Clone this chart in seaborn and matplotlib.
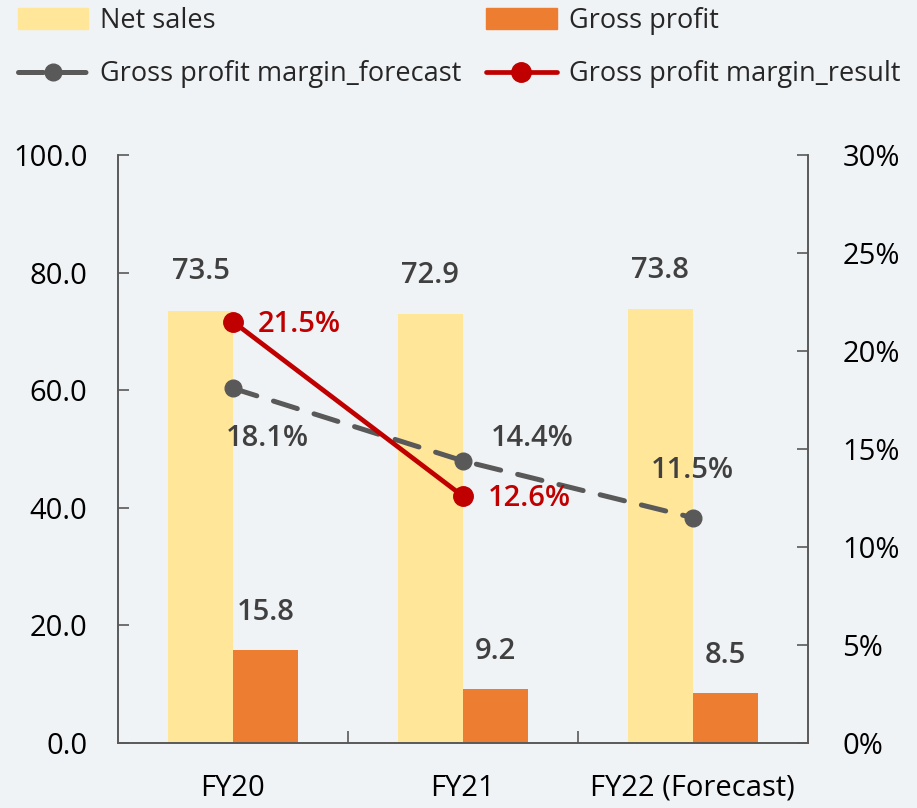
import matplotlib
matplotlib.use("Agg")
import matplotlib.pyplot as plt
import matplotlib.ticker as mticker
from matplotlib.patches import Patch
import seaborn as sns
import pandas as pd

# Data
categories = ["FY20", "FY21", "FY22 (Forecast)"]
net_sales = [73.5, 72.9, 73.8]
gross_profit = [15.8, 9.2, 8.5]
margin_forecast = [0.181, 0.144, 0.115]
margin_result = [0.215, 0.126]

BG = "#F0F3F5"
YELLOW = "#FFE699"
ORANGE = "#ED7D31"
GRAY = "#595959"
RED = "#C00000"
TXT = "#404040"

sns.set_style("white")
plt.rcParams["font.family"] = ["Open Sans", "DejaVu Sans"]

df = pd.DataFrame({
    "cat": categories * 2,
    "value": net_sales + gross_profit,
    "series": ["Net sales"] * 3 + ["Gross profit"] * 3,
})

fig = plt.figure(figsize=(9.17, 8.08), dpi=100, facecolor=BG)
ax = fig.add_axes([0.1287, 0.0804, 0.752, 0.7277])
ax.set_facecolor(BG)

sns.barplot(data=df, x="cat", y="value", hue="series",
            palette={"Net sales": YELLOW, "Gross profit": ORANGE},
            width=0.565, gap=0, saturation=1, linewidth=0, ax=ax, legend=False)

ax.set_ylim(0, 100)
ax.set_xlim(-0.5, 2.5)
ax.yaxis.set_major_locator(mticker.MultipleLocator(20))
ax.yaxis.set_major_formatter(mticker.FormatStrFormatter("%.1f"))
ax.set_xlabel("")
ax.set_ylabel("")

# bar value labels
half = 0.565 / 4
for i, (ns, gp) in enumerate(zip(net_sales, gross_profit)):
    ax.annotate(f"{ns:.1f}", (i - half, ns), xytext=(0, 28), textcoords="offset points",
                ha="center", va="center", fontsize=21, color=TXT, fontweight="semibold")
    ax.annotate(f"{gp:.1f}", (i + half, gp), xytext=(0, 27), textcoords="offset points",
                ha="center", va="center", fontsize=21, color=TXT, fontweight="semibold")

ax2 = ax.twinx()
ax2.set_ylim(0, 0.30)
ax2.yaxis.set_major_locator(mticker.MultipleLocator(0.05))
ax2.yaxis.set_major_formatter(mticker.PercentFormatter(1.0, decimals=0))

xs = list(range(len(categories)))
ax2.plot(xs, margin_forecast, color=GRAY, lw=3.6, ls=(0, (5, 3.5)),
         marker="o", ms=12, label="Gross profit margin_forecast",
         dash_capstyle="round")
ax2.plot(xs[:len(margin_result)], margin_result, color=RED, lw=3.4,
         marker="o", ms=14, label="Gross profit margin_result")

# percentage labels
fc_off = [(25, -36), (50, 16), (0, 34)]
for x, v, o in zip(xs, margin_forecast, fc_off):
    ax2.annotate(f"{v:.1%}", (x, v), xytext=o, textcoords="offset points",
                 ha="center", va="center", fontsize=21, color=TXT, fontweight="semibold")
for x, v in zip(xs, margin_result):
    ax2.annotate(f"{v:.1%}", (x, v), xytext=(18, -2), textcoords="offset points",
                 ha="left", va="center", fontsize=21, color=RED, fontweight="semibold")

# spines and ticks
for a in (ax, ax2):
    a.spines["top"].set_visible(False)
    for s in ("left", "right", "bottom"):
        a.spines[s].set_color(GRAY)
        a.spines[s].set_linewidth(1.2)
ax.tick_params(axis="y", direction="in", length=8, width=1.2, color=GRAY,
               labelsize=21, pad=22, labelcolor="black")
ax2.tick_params(axis="y", direction="in", length=8, width=1.2, color=GRAY,
                labelsize=21, pad=25, labelcolor="black")
ax.xaxis.set_minor_locator(mticker.FixedLocator([0.5, 1.5]))
ax.tick_params(axis="x", which="major", length=0, labelsize=21, pad=22, labelcolor="black")
ax.tick_params(axis="x", which="minor", direction="in", length=9, width=1.2, color=GRAY,
               bottom=True)

# legend
h_ns = Patch(color=YELLOW, label="Net sales")
h_gp = Patch(color=ORANGE, label="Gross profit")
h_fc, h_rs = ax2.get_legend_handles_labels()[0]
fig.legend([h_ns, h_fc, h_gp, h_rs],
           ["Net sales", "Gross profit margin_forecast", "Gross profit", "Gross profit margin_result"],
           ncol=2, loc="upper left", bbox_to_anchor=(0.012, 1.0), frameon=False,
           fontsize=19.5, handlelength=2.6, handleheight=0.8, columnspacing=0.9,
           labelspacing=0.95, handletextpad=0.45, borderaxespad=0.0, borderpad=0.25)

fig.savefig("out.png", dpi=100, facecolor=BG)
